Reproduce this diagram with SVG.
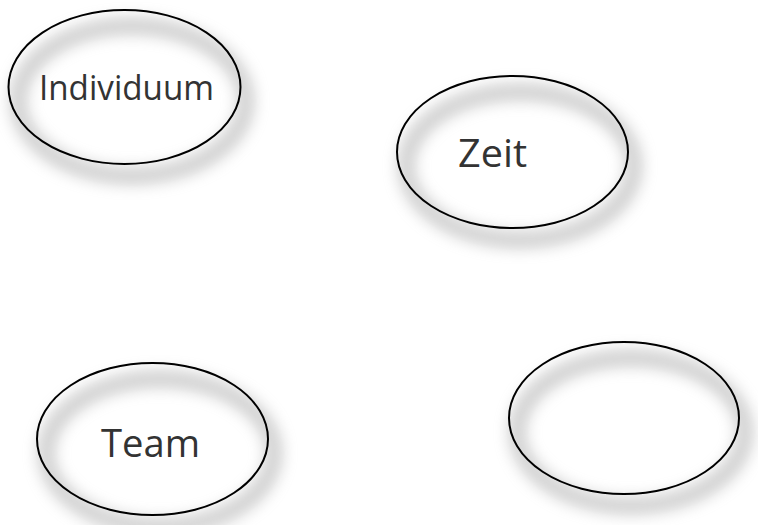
<svg xmlns="http://www.w3.org/2000/svg" width="758" height="525" viewBox="0 0 758 525">
  <defs>
    <filter id="soft" x="-30%" y="-30%" width="160%" height="160%">
      <feGaussianBlur stdDeviation="8"/>
    </filter>
    <style>
      .shadow { fill: none; stroke: #8a8a8a; stroke-width: 14; opacity: 0.5; filter: url(#soft); }
      .outline { fill: none; stroke: #000; stroke-width: 2; }
      .label { font-family: "Open Sans", "Liberation Sans", sans-serif; fill: #333333; }
    </style>
  </defs>
  <rect width="758" height="525" fill="#ffffff"/>
  <g id="connectors"></g>
  <g id="node-individuum">
    <ellipse class="shadow" cx="132" cy="101" rx="114" ry="75"/>
    <ellipse class="outline" cx="124.5" cy="87" rx="116" ry="77"/>
    <text class="label" x="39" y="100" font-size="35" textLength="175" lengthAdjust="spacingAndGlyphs">Individuum</text>
  </g>
  <g id="node-zeit">
    <ellipse class="shadow" cx="520" cy="166" rx="114" ry="74"/>
    <ellipse class="outline" cx="512.5" cy="152" rx="115.5" ry="76"/>
    <text class="label" x="458" y="167" font-size="38" textLength="69" lengthAdjust="spacingAndGlyphs">Zeit</text>
  </g>
  <g id="node-team">
    <ellipse class="shadow" cx="160" cy="453" rx="114" ry="74"/>
    <ellipse class="outline" cx="152.5" cy="439" rx="115.5" ry="76"/>
    <text class="label" x="101" y="457" font-size="38" textLength="99" lengthAdjust="spacingAndGlyphs">Team</text>
  </g>
  <g id="node-empty">
    <ellipse class="shadow" cx="631" cy="432" rx="114" ry="74"/>
    <ellipse class="outline" cx="624" cy="418" rx="115" ry="76"/>
  </g>
</svg>
